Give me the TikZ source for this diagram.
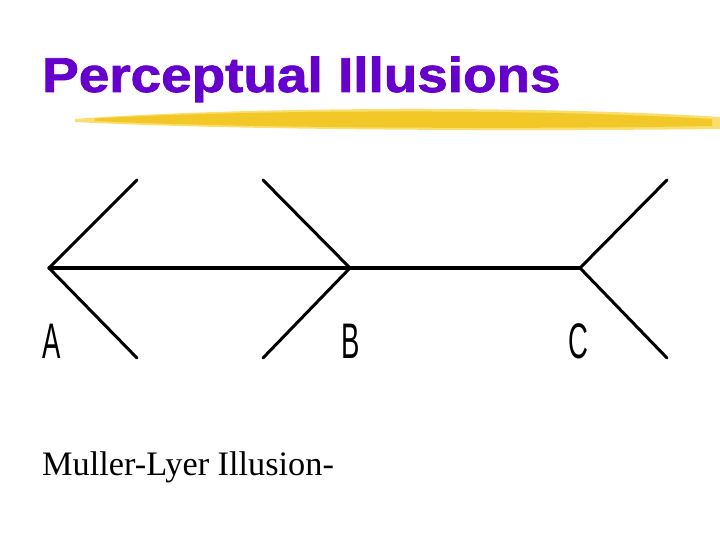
\documentclass[tikz,border=0pt]{standalone}
\usepackage{fontspec}
\setmainfont{Liberation Serif}
\newfontfamily\headfont{Liberation Sans}
\newfontfamily\titlefont[FakeBold=1.5]{Liberation Sans Bold}
\usepackage{xcolor}
\definecolor{titlepurple}{RGB}{102,0,204}
\definecolor{brushgold}{RGB}{242,200,40}
\definecolor{brushlight}{RGB}{250,222,110}

\begin{document}
\begin{tikzpicture}[x=1pt, y=-1pt,
    fin/.style={line width=3pt, line cap=round, line join=round},
    shaft/.style={line width=3.2pt, line cap=round},
    letter/.style={inner sep=0pt, font=\headfont\fontsize{50}{50}\selectfont}]

    \useasboundingbox (0,0) rectangle (720,540);

    % title and brush stroke
    \node[anchor=base west, inner sep=0pt, text=titlepurple] (title) at (42,92)
        {\scalebox{1.12}[1]{\titlefont\fontsize{49}{49}\selectfont Perceptual Illusions}};
    \fill[brushlight] (75,119) .. controls (250,106) and (550,106) .. (720,117)
        -- (720,129) .. controls (550,131) and (250,131) .. (75,122) -- cycle;
    \fill[brushgold] (95,118.5) .. controls (260,109) and (550,109) .. (712,119)
        -- (712,126) .. controls (550,129) and (260,129) .. (95,121) -- cycle;

    % vertices
    \coordinate (A) at (49,268);
    \coordinate (B) at (350,268);
    \coordinate (C) at (580,268);
    \coordinate (a1) at (137,180);
    \coordinate (a2) at (137,358);
    \coordinate (b1) at (263,180);
    \coordinate (b2) at (263,358);
    \coordinate (c1) at (667,180);
    \coordinate (c2) at (667,358);

    \draw[shaft] (A) -- (B) -- (C);
    \draw[fin] (a1) -- (A) -- (a2);
    \draw[fin] (b1) -- (B) -- (b2);
    \draw[fin] (c1) -- (C) -- (c2);

    \node[letter] (labA) at (52,341) {\scalebox{0.55}[1]{A}};
    \node[letter] (labB) at (351,341) {\scalebox{0.55}[1]{B}};
    \node[letter] (labC) at (578,341) {\scalebox{0.55}[1]{C}};

    \node[anchor=base west, inner sep=0pt, font=\fontsize{34.3}{34.3}\selectfont] (caption) at (42,475)
        {Muller-Lyer Illusion-};
\end{tikzpicture}
\end{document}
